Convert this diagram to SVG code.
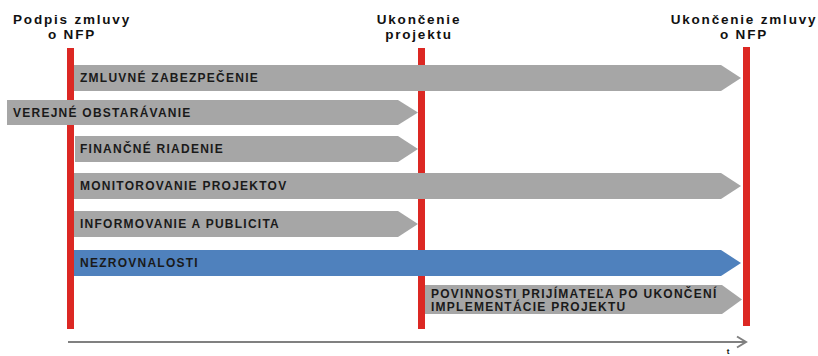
<svg xmlns="http://www.w3.org/2000/svg" width="818" height="356" viewBox="0 0 818 356">
<style>
.hdr{font-family:"Liberation Sans",Arial,sans-serif;font-weight:bold;font-size:13.5px;letter-spacing:1.8px;fill:#111;text-anchor:middle}
.lbl{font-family:"Liberation Sans",Arial,sans-serif;font-weight:bold;font-size:12px;letter-spacing:1.25px;fill:#1a1a1a}
.gray{fill:#A6A6A6}
.blue{fill:#4F81BD}
.ms{fill:#DC2823}
</style>
<rect width="818" height="356" fill="#fff"/>
<g id="milestones">
<g id="m1"><rect class="ms" x="67" y="48" width="7" height="281"/><text class="hdr" x="72" y="23.5">Podpis zmluvy</text><text class="hdr" x="72" y="39.2">o NFP</text></g>
<g id="m2"><rect class="ms" x="418" y="48" width="7" height="281"/><text class="hdr" x="419" y="23.5">Ukončenie</text><text class="hdr" x="419" y="39.2">projektu</text></g>
<g id="m3"><rect class="ms" x="743" y="47" width="7" height="279"/><text class="hdr" x="744" y="23.5">Ukončenie zmluvy</text><text class="hdr" x="744" y="39.2">o NFP</text></g>
</g>
<g id="connectors">
<line x1="68" y1="342" x2="746" y2="342" stroke="#808080" stroke-width="2"/>
<polyline points="737,336.5 746,342 737,347.5" fill="none" stroke="#808080" stroke-width="2"/>
<text x="728" y="354" font-family="Liberation Sans,Arial,sans-serif" font-size="8" font-weight="bold" fill="#111" text-anchor="middle">t</text>
</g>
<g id="b1"><polygon class="gray" points="74,65 721,65 741,78 721,91 74,91"/><text class="lbl" x="80" y="82">ZMLUVNÉ ZABEZPEČENIE</text></g>
<g id="b2"><polygon class="gray" points="7,100 398,100 418,112.5 398,125 7,125"/><text class="lbl" x="13" y="117">VEREJNÉ OBSTARÁVANIE</text></g>
<g id="b3"><polygon class="gray" points="75,136 398,136 418,149 398,162 75,162"/><text class="lbl" x="80" y="153">FINANČNÉ RIADENIE</text></g>
<g id="b4"><polygon class="gray" points="74,173 721,173 741,186 721,199 74,199"/><text class="lbl" x="80" y="190">MONITOROVANIE PROJEKTOV</text></g>
<g id="b5"><polygon class="gray" points="74,211 398,211 418,224 398,237 74,237"/><text class="lbl" x="80" y="228">INFORMOVANIE A PUBLICITA</text></g>
<g id="b6"><polygon class="blue" points="74,250 721,250 741,263 721,276 74,276"/><text class="lbl" x="80" y="267">NEZROVNALOSTI</text></g>
<g id="b7"><polygon class="gray" points="425,285 722,285 742,299.5 722,314 425,314"/><text class="lbl" x="431" y="298">POVINNOSTI PRIJÍMATEĽA PO UKONČENÍ</text><text class="lbl" x="431" y="311">IMPLEMENTÁCIE PROJEKTU</text></g>
</svg>
